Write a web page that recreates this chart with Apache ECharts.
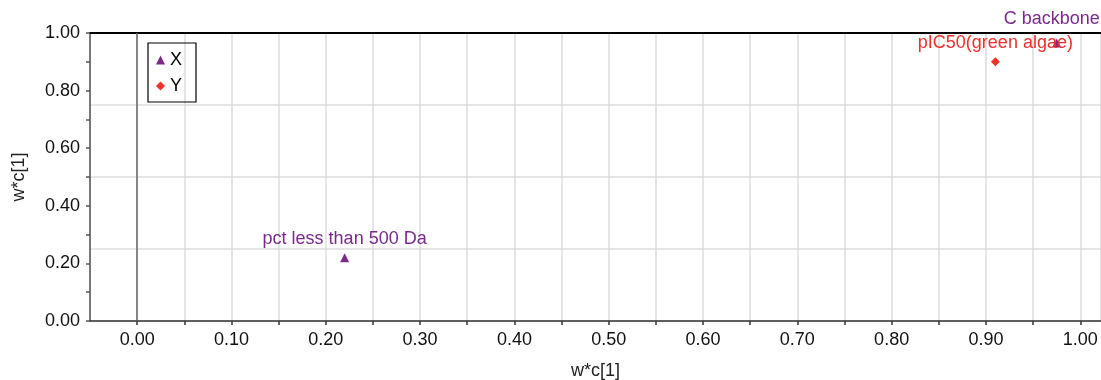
<!DOCTYPE html>
<html>
<head>
<meta charset="utf-8">
<script src="https://cdn.jsdelivr.net/npm/echarts@6/dist/echarts.min.js"></script>
<style>
  html, body { margin: 0; padding: 0; background: #fff; }
  #chart { width: 1101px; height: 380px; }
</style>
</head>
<body>
<div id="chart"></div>
<script>
// Loadings: w*c[1] vs w*c[1]
const xNames = ['pct less than 500 Da', 'C backbone'];
const xPointsX = [0.22, 0.975];
const xPointsY = [0.22, 0.965];

const yNames = ['pIC50(green algae)'];
const yPointsX = [0.91];
const yPointsY = [0.90];

const axisTitle = 'w*c[1]';

const PURPLE = '#7b2a8c';
const RED = '#f0302a';
const FONT = 'Liberation Sans, Arial, Helvetica, sans-serif';

function pairs(xs, ys, names) {
  return xs.map((x, i) => ({ value: [x, ys[i]], name: names[i] }));
}

const xData = pairs(xPointsX, xPointsY, xNames);
// keep the top-right label clear of its neighbour
xData[1].label = { offset: [-5, -6] };

const fmt2 = (v, step) => {
  const k = Math.round(v * 100);
  if (Math.abs(v * 100 - k) > 1e-6) return '';
  return k % step === 0 ? (k / 100).toFixed(2) : '';
};

const chart = echarts.init(document.getElementById('chart'));
chart.setOption({
  animation: false,
  textStyle: { fontFamily: FONT },
  grid: { left: 90, top: 33, right: 0, bottom: 59, containLabel: false, outerBoundsMode: 'none' },
  legend: {
    orient: 'vertical',
    left: 148, top: 43,
    padding: [8, 14, 7, 8],
    itemGap: 8,
    itemWidth: 9, itemHeight: 9,
    borderColor: '#000', borderWidth: 1.2, borderRadius: 0,
    textStyle: { fontSize: 18, color: '#000', fontFamily: FONT },
    data: [
      { name: 'X', icon: 'triangle' },
      { name: 'Y', icon: 'diamond' }
    ]
  },
  xAxis: [
    {
      type: 'value', min: -0.05, max: 1.022, interval: 0.05,
      name: axisTitle, nameLocation: 'middle', nameGap: 41,
      nameTextStyle: { fontSize: 18, color: '#222', fontFamily: FONT },
      axisLine: { show: true, onZero: false, lineStyle: { color: '#333', width: 1.5 } },
      axisTick: { show: true, length: 4, lineStyle: { color: '#333', width: 1.5 } },
      axisLabel: { fontSize: 18, color: '#111', margin: 10, showMinLabel: false, showMaxLabel: false,
        formatter: v => fmt2(v, 10) },
      splitLine: { show: true, lineStyle: { color: '#dcdcdc', width: 1.5 } }
    },
    {
      type: 'value', position: 'top', min: -0.05, max: 1.022,
      axisLine: { show: true, onZero: false, lineStyle: { color: '#000', width: 2 } },
      axisTick: { show: false }, axisLabel: { show: false }, splitLine: { show: false }
    }
  ],
  yAxis: [
    {
      type: 'value', min: 0, max: 1, interval: 0.1,
      name: axisTitle, nameLocation: 'middle', nameGap: 62, nameRotate: 90,
      nameTextStyle: { fontSize: 18, color: '#222', fontFamily: FONT },
      axisLine: { show: true, onZero: false, lineStyle: { color: '#555', width: 1.5 } },
      axisTick: { show: true, length: 4, lineStyle: { color: '#555', width: 1.5 } },
      axisLabel: { fontSize: 18, color: '#111', margin: 10, formatter: v => fmt2(v, 20) },
      splitLine: { show: false }
    },
    {
      type: 'value', min: 0, max: 1, interval: 0.25, position: 'right',
      axisLine: { show: false }, axisTick: { show: false }, axisLabel: { show: false },
      splitLine: { show: true, lineStyle: { color: '#dcdcdc', width: 1.5 } }
    }
  ],
  series: [
    {
      name: 'X', type: 'scatter', symbol: 'triangle', symbolSize: 9,
      itemStyle: { color: PURPLE, opacity: 1 },
      label: { show: true, position: 'top', distance: 5, formatter: '{b}',
        fontSize: 18, color: PURPLE, fontFamily: FONT },
      data: xData,
      markLine: {
        silent: true, symbol: 'none', label: { show: false },
        lineStyle: { color: '#666', width: 1.5, type: 'solid' },
        data: [{ xAxis: 0 }]
      },
      z: 5
    },
    {
      name: 'Y', type: 'scatter', symbol: 'diamond', symbolSize: 9,
      itemStyle: { color: RED, opacity: 1 },
      label: { show: true, position: 'top', distance: 5, formatter: '{b}',
        fontSize: 18, color: RED, fontFamily: FONT },
      data: pairs(yPointsX, yPointsY, yNames),
      z: 5
    }
  ]
});
</script>
</body>
</html>
